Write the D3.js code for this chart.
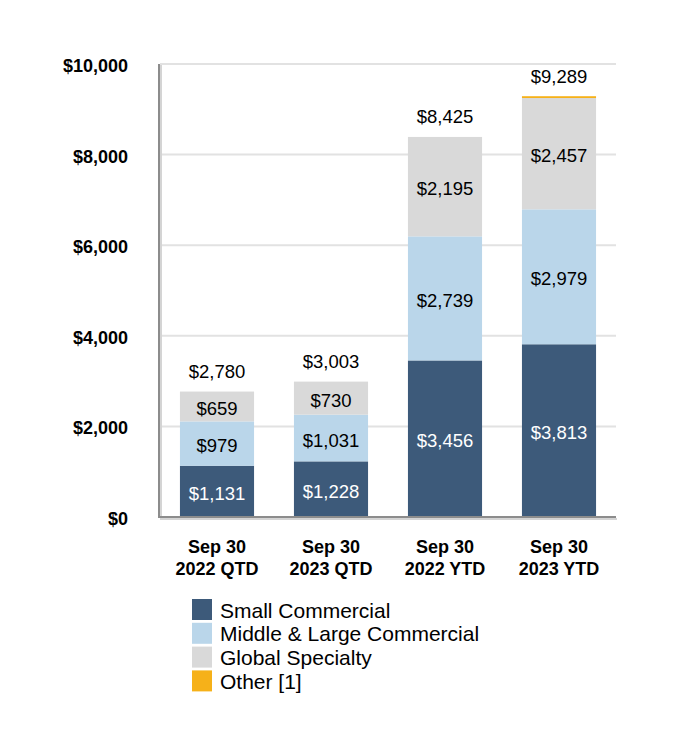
<!DOCTYPE html>
<html>
<head>
<meta charset="utf-8">
<script src="https://cdn.jsdelivr.net/npm/d3@7"></script>
<style>
  body { margin: 0; background: #fff; }
  text { font-family: "Liberation Sans", Arial, sans-serif; }
</style>
</head>
<body>
<script>
// data
var categories = ['Sep 30|2022 QTD', 'Sep 30|2023 QTD', 'Sep 30|2022 YTD', 'Sep 30|2023 YTD']
var seriesNames = ['Small Commercial', 'Middle & Large Commercial', 'Global Specialty', 'Other [1]']
var smallCommercial = [1131, 1228, 3456, 3813]
var middleLarge = [979, 1031, 2739, 2979]
var globalSpecialty = [659, 730, 2195, 2457]
var other = [0, 0, 0, 40]
var totals = [2780, 3003, 8425, 9289]
var yTicks = [0, 2000, 4000, 6000, 8000, 10000]

var colors = ['#3d5a7a', '#bad6ea', '#d9d9d9', '#f6b119']
var labelColors = ['#fff', '#000', '#000', null]

var w = 680, h = 750

var svg = d3.select('body').append('svg')
    .attr('width', w)
    .attr('height', h)

var x = d3.scaleBand()
    .domain(categories)
    .range([160, 616])
    .paddingInner(0.35)
    .paddingOuter(0.175)

var y = d3.scaleLinear()
    .domain([0, 10000])
    .range([517, 64])

var fmt = function(v) { return '$' + d3.format(',')(v) }

//gridlines
svg.append('g').selectAll('line')
    .data(yTicks.filter(function(t) { return t > 0 }))
    .enter().append('line')
    .attr('x1', 160).attr('x2', 616)
    .attr('y1', function(d) { return y(d) })
    .attr('y2', function(d) { return y(d) })
    .attr('stroke', '#e2e2e2')
    .attr('stroke-width', 2)

//stack the series
var rows = categories.map(function(c, i) {
    return { cat: c, s0: smallCommercial[i], s1: middleLarge[i], s2: globalSpecialty[i], s3: other[i], total: totals[i] }
})
var stack = d3.stack().keys(['s0', 's1', 's2', 's3'])(rows)

var layers = svg.append('g').selectAll('g')
    .data(stack)
    .enter().append('g')
    .attr('fill', function(d, i) { return colors[i] })

layers.selectAll('rect')
    .data(function(d) { return d })
    .enter().append('rect')
    .attr('x', function(d) { return x(d.data.cat) })
    .attr('width', x.bandwidth())
    .attr('y', function(d) { return y(d[1]) })
    .attr('height', function(d) { return y(d[0]) - y(d[1]) })

//segment labels
stack.forEach(function(layer, i) {
    if (!labelColors[i]) return
    svg.append('g').selectAll('text')
        .data(layer)
        .enter().append('text')
        .attr('x', function(d) { return x(d.data.cat) + x.bandwidth() / 2 })
        .attr('y', function(d) { return (y(d[0]) + y(d[1])) / 2 + 2 })
        .attr('text-anchor', 'middle')
        .attr('dominant-baseline', 'central')
        .attr('font-size', 18.5)
        .attr('fill', labelColors[i])
        .text(function(d) { return fmt(d[1] - d[0]) })
})

//totals above bars
var topLayer = stack[stack.length - 1]
svg.append('g').selectAll('text')
    .data(topLayer)
    .enter().append('text')
    .attr('x', function(d) { return x(d.data.cat) + x.bandwidth() / 2 })
    .attr('y', function(d) { return y(d[1]) - 20 })
    .attr('text-anchor', 'middle')
    .attr('dominant-baseline', 'central')
    .attr('font-size', 18.5)
    .attr('fill', '#000')
    .text(function(d) { return fmt(d.data.total) })

//axis frame, grey with a soft shadow
svg.append('path')
    .attr('d', 'M161,65V519H617')
    .attr('fill', 'none')
    .attr('stroke', '#d4d4d4')
    .attr('stroke-width', 2)
svg.append('path')
    .attr('d', 'M159,64V517H616')
    .attr('fill', 'none')
    .attr('stroke', '#8c8c8c')
    .attr('stroke-width', 2)

//y tick labels
svg.append('g').selectAll('text')
    .data(yTicks)
    .enter().append('text')
    .attr('x', 128)
    .attr('y', function(d) { return y(d) + 2 })
    .attr('text-anchor', 'end')
    .attr('dominant-baseline', 'central')
    .attr('font-size', 18)
    .attr('font-weight', 'bold')
    .text(fmt)

//category labels, two lines
var cl = svg.append('g').selectAll('text')
    .data(categories)
    .enter().append('text')
    .attr('text-anchor', 'middle')
    .attr('font-size', 18)
    .attr('font-weight', 'bold')
cl.selectAll('tspan')
    .data(function(d) { return d.split('|').map(function(s) { return { s: s, c: d } }) })
    .enter().append('tspan')
    .attr('x', function(d) { return x(d.c) + x.bandwidth() / 2 })
    .attr('y', function(d, i) { return 553 + i * 22 })
    .text(function(d) { return d.s })

//legend
var lg = svg.append('g').selectAll('g')
    .data(seriesNames)
    .enter().append('g')
    .attr('transform', function(d, i) { return 'translate(192,' + (599 + i * 23.8) + ')' })
lg.append('rect')
    .attr('width', 20)
    .attr('height', 21)
    .attr('fill', function(d, i) { return colors[i] })
lg.append('text')
    .attr('x', 28)
    .attr('y', 11)
    .attr('dominant-baseline', 'central')
    .attr('font-size', 21)
    .text(function(d) { return d })
</script>
</body>
</html>
